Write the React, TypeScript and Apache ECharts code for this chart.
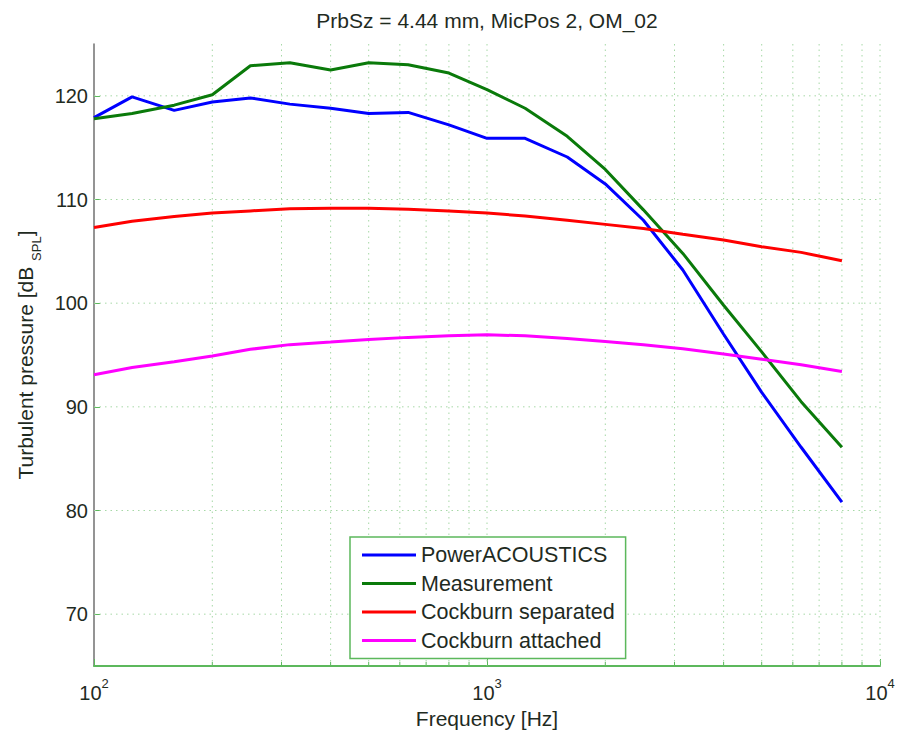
import React, { useEffect, useRef } from "react";
import * as echarts from "echarts";

const frequencies = [100, 125, 160, 200, 250, 315, 400, 500, 630, 800, 1000, 1250, 1600, 2000, 2500, 3150, 4000, 5000, 6300, 8000];
const powerAcoustics = [117.9, 119.9, 118.6, 119.4, 119.8, 119.2, 118.8, 118.3, 118.4, 117.2, 115.9, 115.9, 114.1, 111.5, 108.0, 103.2, 97.0, 91.4, 86.1, 80.8];
const measurement = [117.8, 118.3, 119.1, 120.1, 122.9, 123.2, 122.5, 123.2, 123.0, 122.2, 120.6, 118.8, 116.1, 112.9, 109.0, 104.8, 99.8, 95.3, 90.5, 86.1];
const cockburnSeparated = [107.3, 107.9, 108.35, 108.7, 108.9, 109.1, 109.15, 109.15, 109.05, 108.9, 108.7, 108.4, 108.0, 107.6, 107.2, 106.65, 106.1, 105.45, 104.9, 104.1];
const cockburnAttached = [93.1, 93.8, 94.35, 94.9, 95.55, 96.0, 96.25, 96.5, 96.7, 96.85, 96.95, 96.85, 96.6, 96.3, 96.0, 95.6, 95.1, 94.6, 94.05, 93.4];

const seriesNames = ["PowerACOUSTICS", "Measurement", "Cockburn separated", "Cockburn attached"];
const seriesColors = ["#0000ff", "#0a7a0a", "#ff0000", "#ff00ff"];

const yTicks = [70, 80, 90, 100, 110, 120];
const gridFreqs = [200, 300, 400, 500, 600, 700, 800, 900, 1000, 2000, 3000, 4000, 5000, 6000, 7000, 8000, 9000, 10000];

const X_MIN = 100;
const X_MAX = 10000;
const Y_MIN = 65;
const Y_MAX = 125;

const FONT = "Liberation Sans, Arial, sans-serif";
const TEXT = "#1f2b1f";
const AXIS_GREEN = "#5cb85c";
const GRID_GREEN = "#a6d8a6";

export default function App() {
  const ref = useRef<HTMLDivElement>(null);

  useEffect(() => {
    if (!ref.current) return;
    const chart = echarts.init(ref.current, undefined, { renderer: "svg" });
    const allData = [powerAcoustics, measurement, cockburnSeparated, cockburnAttached];

    const lineSeries = seriesNames.map((name, i) => ({
      name,
      type: "line",
      data: frequencies.map((f, j) => [f, allData[i][j]]),
      symbol: "none",
      showSymbol: false,
      z: 5,
      lineStyle: { color: seriesColors[i], width: 3 },
      itemStyle: { color: seriesColors[i] },
    }));

    const option: any = {
      animation: false,
      backgroundColor: "#ffffff",
      textStyle: { fontFamily: FONT },
      title: {
        text: "PrbSz = 4.44 mm, MicPos 2, OM_02",
        left: 487,
        textAlign: "center",
        top: 10,
        padding: 0,
        textStyle: { fontSize: 21, fontWeight: "normal", color: TEXT, fontFamily: FONT },
      },
      grid: { left: 94, right: 19, top: 44, bottom: 68, containLabel: false },
      legend: {
        data: seriesNames,
        orient: "vertical",
        left: 350,
        top: 537,
        padding: [7, 11, 7, 12],
        icon: "rect",
        itemWidth: 54,
        itemHeight: 3,
        itemGap: 6.5,
        borderColor: AXIS_GREEN,
        borderWidth: 1.5,
        borderRadius: 0,
        backgroundColor: "#ffffff",
        textStyle: { fontSize: 21.5, color: TEXT, fontFamily: FONT, lineHeight: 21 },
      },
      xAxis: {
        type: "log",
        logBase: 10,
        min: X_MIN,
        max: X_MAX,
        name: "Frequency [Hz]",
        nameLocation: "middle",
        nameGap: 39,
        nameTextStyle: { fontSize: 21, color: TEXT, fontFamily: FONT },
        axisLine: { show: true, lineStyle: { color: AXIS_GREEN, width: 2 } },
        axisTick: { show: true, inside: true, length: 7, lineStyle: { color: AXIS_GREEN, width: 1 } },
        splitLine: { show: false },
        minorTick: { show: false },
        axisLabel: {
          margin: 11,
          formatter: (v: number) => `{b|10}{s|${Math.round(Math.log10(v))}}`,
          rich: {
            b: { fontSize: 20, color: TEXT, fontFamily: FONT, lineHeight: 26, verticalAlign: "bottom" },
            s: { fontSize: 13, color: TEXT, fontFamily: FONT, lineHeight: 14, verticalAlign: "top" },
          },
        },
      },
      yAxis: {
        type: "value",
        min: Y_MIN,
        max: Y_MAX,
        name: "{a|Turbulent pressure [dB }{sub|SPL}{a|]}",
        nameLocation: "middle",
        nameGap: 51,
        nameTextStyle: {
          color: TEXT,
          fontFamily: FONT,
          rich: {
            a: { fontSize: 21, color: TEXT, fontFamily: FONT, lineHeight: 36, verticalAlign: "middle" },
            sub: { fontSize: 13, color: TEXT, fontFamily: FONT, lineHeight: 14, verticalAlign: "bottom" },
          },
        },
        axisLine: { show: true, onZero: false, lineStyle: { color: "#707070", width: 1.5 } },
        axisTick: { show: true, inside: true, length: 6, customValues: yTicks, lineStyle: { color: AXIS_GREEN, width: 1 } },
        axisLabel: { customValues: yTicks, fontSize: 20, color: TEXT, fontFamily: FONT, margin: 6 },
        splitLine: { show: false },
      },
      series: [
        {
          name: "vgrid",
          type: "custom",
          silent: true,
          z: 1,
          data: gridFreqs.map((f) => [f, Y_MIN]),
          encode: { x: 0, y: 1 },
          renderItem: (_params: any, api: any) => {
            const f = api.value(0);
            const top = api.coord([f, Y_MAX]);
            const bot = api.coord([f, Y_MIN]);
            const isMajor = Math.abs(Math.log10(f) - Math.round(Math.log10(f))) < 1e-9;
            const children: any[] = [
              {
                type: "line",
                shape: { x1: top[0], y1: top[1], x2: bot[0], y2: bot[1] },
                style: { stroke: GRID_GREEN, lineWidth: 1, lineDash: [1.5, 4] },
              },
            ];
            if (!isMajor) {
              children.push({
                type: "line",
                shape: { x1: bot[0], y1: bot[1], x2: bot[0], y2: bot[1] - 4 },
                style: { stroke: AXIS_GREEN, lineWidth: 1 },
              });
            }
            return { type: "group", children };
          },
        },
        {
          name: "hgrid",
          type: "custom",
          silent: true,
          z: 1,
          data: yTicks.map((y) => [X_MIN, y]),
          encode: { x: 0, y: 1 },
          renderItem: (_params: any, api: any) => {
            const y = api.value(1);
            const a = api.coord([X_MIN, y]);
            const b = api.coord([X_MAX, y]);
            return {
              type: "line",
              shape: { x1: a[0], y1: a[1], x2: b[0], y2: b[1] },
              style: { stroke: GRID_GREEN, lineWidth: 1, lineDash: [1.5, 4] },
            };
          },
        },
        ...lineSeries,
      ],
    };

    chart.setOption(option);
    return () => chart.dispose();
  }, []);

  return (
    <div
      ref={ref}
      style={{ position: "absolute", left: 0, top: 0, width: 899, height: 734, background: "#ffffff" }}
    />
  );
}
